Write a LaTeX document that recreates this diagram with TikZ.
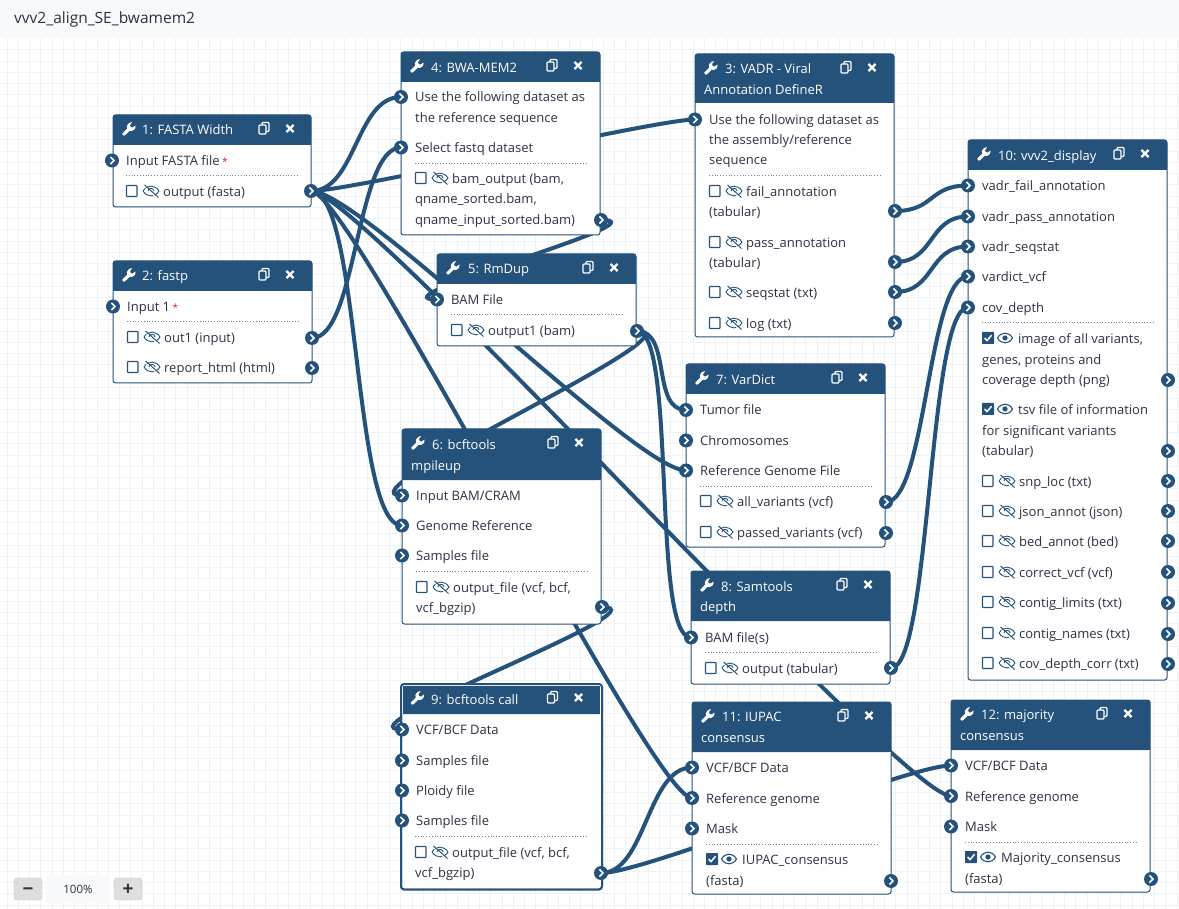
\documentclass[tikz,border=0pt]{standalone}
\usepackage{fontspec}
\setmainfont{Open Sans}
\pgfdeclarelayer{gridlayer}
\pgfdeclarelayer{noodlelayer}
\pgfsetlayers{gridlayer,noodlelayer,main}
\definecolor{galaxyblue}{HTML}{25527A}
\definecolor{inktext}{HTML}{2C3143}
\definecolor{gridline}{HTML}{EEF3F8}
\definecolor{barfill}{HTML}{F8F9FA}
\definecolor{starred}{HTML}{E31A1E}
\tikzset{
	noodle/.style={draw=galaxyblue,line width=4pt},
	boxbody/.style={draw=galaxyblue,fill=white,line width=1pt,rounded corners=2.5pt},
	headfill/.style={fill=galaxyblue,rounded corners=2.5pt},
	portnode/.style={circle,fill=galaxyblue,minimum size=14pt,inner sep=0pt},
	rowlabel/.style={anchor=base west,inner sep=0pt,text=inktext,font=\fontsize{13}{16}\selectfont},
	titlelabel/.style={anchor=base west,inner sep=0pt,text=white,font=\fontsize{13}{16}\selectfont},
	sepline/.style={draw=galaxyblue!70!white,line width=.8pt,dotted},
	zoombutton/.style={draw=black!22,fill=black!13,rounded corners=3pt,minimum width=28pt,minimum height=22pt,inner sep=0pt,text=inktext,text height=13.2pt,text depth=0pt,font=\fontsize{19}{19}\bfseries\selectfont}
}
\newcommand{\redstar}{\hspace{2.5pt}\textcolor{starred}{\fontsize{10}{10}\selectfont *}}
% icons, drawn around a centre point
\newcommand{\wrenchicon}[2]{
	\fill[white,rounded corners=.5pt,shift={(#1,#2)}] (-7,4.8) -- (-1.6,-.6) -- (-2.2,-3) -- (0,-6) -- (3.2,-7) -- (1,-4) -- (1.6,-2) -- (3.6,-1.4) -- (6.6,-3.6) -- (6,0) -- (3,2) -- (.8,1.6) -- (-4.8,7) -- cycle;
}
\newcommand{\copyicon}[2]{
	\begin{scope}[shift={(#1,#2)},draw=white,line width=1.1pt]
		\draw[rounded corners=1pt] (-2,-5.5) rectangle (5,3.5);
		\draw[fill=galaxyblue,rounded corners=1pt] (-5,-3) rectangle (2,6);
	\end{scope}
}
\newcommand{\closeicon}[2]{
	\draw[white,line width=2.3pt,shift={(#1,#2)}] (-3.6,-3.6) -- (3.6,3.6) (-3.6,3.6) -- (3.6,-3.6);
}
% box: name, left, top, right, bottom, header bottom
\newcommand{\toolbox}[6]{
	\draw[boxbody] (#2,#3) rectangle (#4,#5);
	\fill[headfill] (#2,#6) -- (#2,#3) -- (#4,#3) -- (#4,#6) [sharp corners] -- cycle;
	\fill[galaxyblue] (#2,#6-4) rectangle (#4,#6);
	\wrenchicon{#2+16}{#3+14}
	\copyicon{#2+151}{#3+13}
	\closeicon{#2+177}{#3+13.5}
}
\newcommand{\titlerow}[4]{\node[titlelabel] (#1) at (#2,#3+5.5) {#4};}
\newcommand{\textrow}[4]{\node[rowlabel] (#1) at (#2,#3+5.5) {#4};}
\newcommand{\portdot}[3]{
	\node[portnode] (#1) at (#2,#3) {};
	\draw[white,line width=1.6pt] (#2-1.6,#3-3.6) -- (#2+2,#3) -- (#2-1.6,#3+3.6);
}
\newcommand{\inrow}[4]{
	\portdot{#1}{#2}{#3}
	\textrow{#1text}{#2+14}{#3-.5}{#4}
}
\newcommand{\eyeslash}[2]{
	\begin{scope}[shift={(#1,#2)},draw=galaxyblue,line width=.9pt]
		\draw (-8,0) .. controls (-4,-6.5) and (4,-6.5) .. (8,0) .. controls (4,6.5) and (-4,6.5) .. (-8,0);
		\draw[line width=1pt] (-6.5,-6) -- (7.5,6.5);
		\draw[draw=white,line width=1pt] (-7.5,-5) -- (6.5,7.5);
		\draw (-3,0) .. controls (-3,-3.5) and (3,-3.5) .. (3,0);
	\end{scope}
}
% output rows with a checkbox: name, left, y, text
\newcommand{\hidrow}[4]{
	\draw[draw=galaxyblue,fill=white,line width=1.1pt,rounded corners=.6pt] (#2+.5,#3-5.5) rectangle (#2+11,#3+5.5);
	\eyeslash{#2+25}{#3}
	\textrow{#1}{#2+37}{#3}{#4}
}
\newcommand{\eyerow}[4]{
	\fill[galaxyblue,rounded corners=.6pt] (#2,#3-6) rectangle (#2+12,#3+6);
	\draw[white,line width=1.5pt] (#2+2.6,#3) -- (#2+5,#3+2.6) -- (#2+9.6,#3-2.8);
	\draw[galaxyblue,line width=1.1pt] (#2+15.5,#3) .. controls (#2+19,#3-6.5) and (#2+27,#3-6.5) .. (#2+30.5,#3) .. controls (#2+27,#3+6.5) and (#2+19,#3+6.5) .. (#2+15.5,#3);
	\fill[galaxyblue] (#2+23,#3) circle (2.6);
	\textrow{#1}{#2+36}{#3}{#4}
}
\begin{document}
	\begin{tikzpicture}[x=1pt,y=-1pt]
		\useasboundingbox (0,0) rectangle (1179,909);
		\begin{pgfonlayer}{gridlayer}
			\fill[white] (0,0) rectangle (1179,909);
			\foreach \i in {0,...,104}
			{
				\draw[gridline,line width=1pt] (7+\i*11.25,38) -- (7+\i*11.25,909);
			}
			\foreach \i in {0,...,77}
			{
				\draw[gridline,line width=1pt] (0,50+\i*11.25) -- (1179,50+\i*11.25);
			}
		\end{pgfonlayer}
		\fill[barfill] (0,0) rectangle (1179,38);
		\node[rowlabel,font=\fontsize{15.5}{16}\selectfont] (pagetitle) at (14,23.5) {vvv2\_align\_SE\_bwamem2};

		% 1
		\toolbox{box1}{113}{115}{311}{207}{145}
		\titlerow{t1}{142}{129}{1: FASTA Width}
		\inrow{f1in}{112}{160.5}{Input FASTA file\redstar}
		\draw[sepline] (126,175.5) -- (297,175.5);
		\hidrow{f1lab}{126}{191}{output (fasta)}
		\portdot{f1out}{311}{191}
		% 2
		\toolbox{box2}{113}{261}{312}{383}{291}
		\titlerow{t2}{142}{275}{2: fastp}
		\inrow{p2in}{113}{306.5}{Input 1\redstar}
		\draw[sepline] (127,321.5) -- (298,321.5);
		\hidrow{p2laba}{127}{337}{out1 (input)}
		\hidrow{p2labb}{127}{367}{report\_html (html)}
		\portdot{p2out}{312}{338}
		\portdot{p2rep}{312}{368}
		% 4
		\toolbox{box4}{401}{52}{600}{235}{82}
		\titlerow{t4}{431}{67}{4: BWA-MEM2}
		\inrow{b4ref}{401}{97}{Use the following dataset as}
		\textrow{b4refb}{415}{117}{the reference sequence}
		\inrow{b4fq}{401}{147.5}{Select fastq dataset}
		\draw[sepline] (415,163.5) -- (586,163.5);
		\hidrow{b4laba}{415}{178}{bam\_output (bam,}
		\textrow{b4labb}{415}{198}{qname\_sorted.bam,}
		\textrow{b4labc}{415}{219}{qname\_input\_sorted.bam)}
		\portdot{b4out}{601}{220}
		% 3
		\toolbox{box3}{695}{54}{894}{337}{103}
		\titlerow{t3}{725}{68}{3: VADR - Viral}
		\titlerow{t3b}{704}{89}{Annotation DefineR}
		\inrow{v3in}{695}{119.5}{Use the following dataset as}
		\textrow{v3inb}{709}{139.5}{the assembly/reference}
		\textrow{v3inc}{709}{159.5}{sequence}
		\draw[sepline] (709,175.5) -- (880,175.5);
		\hidrow{v3laba}{709}{191}{fail\_annotation}
		\textrow{v3labb}{709}{211}{(tabular)}
		\hidrow{v3labc}{709}{242}{pass\_annotation}
		\textrow{v3labd}{709}{262}{(tabular)}
		\hidrow{v3labe}{709}{292}{seqstat (txt)}
		\hidrow{v3labf}{709}{323}{log (txt)}
		\portdot{v3fail}{895}{211}
		\portdot{v3pass}{895}{262}
		\portdot{v3seq}{895}{292}
		\portdot{v3log}{895}{323}
		% 5
		\toolbox{box5}{437}{254}{636}{346}{284}
		\titlerow{t5}{468}{268}{5: RmDup}
		\inrow{r5in}{437}{299.5}{BAM File}
		\draw[sepline] (451,314.5) -- (622,314.5);
		\hidrow{r5lab}{451}{330}{output1 (bam)}
		\portdot{r5out}{637}{331}
		% 6
		\toolbox{box6}{402}{429}{601}{624}{480}
		\titlerow{t6}{432}{444}{6: bcftools}
		\titlerow{t6b}{411}{465}{mpileup}
		\inrow{m6bam}{402}{495.5}{Input BAM/CRAM}
		\inrow{m6ref}{402}{525.5}{Genome Reference}
		\inrow{m6sam}{402}{555.5}{Samples file}
		\draw[sepline] (416,571.5) -- (587,571.5);
		\hidrow{m6laba}{416}{587}{output\_file (vcf, bcf,}
		\textrow{m6labb}{416}{607}{vcf\_bgzip)}
		\portdot{m6out}{602}{607}
		% 7
		\toolbox{box7}{686}{364}{885}{547}{394}
		\titlerow{t7}{716}{379}{7: VarDict}
		\inrow{d7tum}{686}{410}{Tumor file}
		\inrow{d7chr}{686}{440.5}{Chromosomes}
		\inrow{d7ref}{686}{470.5}{Reference Genome File}
		\draw[sepline] (700,486.5) -- (871,486.5);
		\hidrow{d7laba}{700}{501}{all\_variants (vcf)}
		\hidrow{d7labb}{700}{532}{passed\_variants (vcf)}
		\portdot{d7all}{886}{502}
		\portdot{d7pass}{886}{533}
		% 8
		\toolbox{box8}{691}{571}{890}{684}{621}
		\titlerow{t8}{721}{586}{8: Samtools}
		\titlerow{t8b}{700}{606}{depth}
		\inrow{s8bam}{691}{637.5}{BAM file(s)}
		\draw[sepline] (705,652.5) -- (876,652.5);
		\hidrow{s8lab}{705}{668}{output (tabular)}
		\portdot{s8out}{891}{668}
		% 9
		\toolbox{box9}{401.5}{684}{601.5}{889}{714}
		\draw[white,line width=1pt] (402.5,714) -- (402.5,685.5) -- (600.5,685.5) -- (600.5,714);
		\draw[draw=galaxyblue,line width=2pt,rounded corners=3pt] (401,684) rectangle (602,889.5);
		\titlerow{t9}{431}{699}{9: bcftools call}
		\inrow{c9vcf}{402}{729.5}{VCF/BCF Data}
		\inrow{c9sam}{402}{760.5}{Samples file}
		\inrow{c9plo}{402}{790.5}{Ploidy file}
		\inrow{c9samb}{402}{820.5}{Samples file}
		\draw[sepline] (415,836.5) -- (586,836.5);
		\hidrow{c9laba}{415}{852}{output\_file (vcf, bcf,}
		\textrow{c9labb}{415}{872}{vcf\_bgzip)}
		\portdot{c9out}{601}{873}
		% 10
		\toolbox{box10}{968}{140}{1167}{680}{170}
		\titlerow{t10}{998}{155}{10: vvv2\_display}
		\inrow{e10fail}{968}{185.5}{vadr\_fail\_annotation}
		\inrow{e10pass}{968}{216.5}{vadr\_pass\_annotation}
		\inrow{e10seq}{968}{246.5}{vadr\_seqstat}
		\inrow{e10var}{968}{276.5}{vardict\_vcf}
		\inrow{e10cov}{968}{307.5}{cov\_depth}
		\draw[sepline] (982,322.5) -- (1153,322.5);
		\eyerow{e10laba}{982}{338}{image of all variants,}
		\textrow{e10labb}{982}{359}{genes, proteins and}
		\textrow{e10labc}{982}{379}{coverage depth (png)}
		\eyerow{e10labd}{982}{409}{tsv file of information}
		\textrow{e10labe}{982}{430}{for significant variants}
		\textrow{e10labf}{982}{450}{(tabular)}
		\hidrow{e10labg}{982}{481}{snp\_loc (txt)}
		\hidrow{e10labh}{982}{511}{json\_annot (json)}
		\hidrow{e10labi}{982}{541}{bed\_annot (bed)}
		\hidrow{e10labj}{982}{572}{correct\_vcf (vcf)}
		\hidrow{e10labk}{982}{602}{contig\_limits (txt)}
		\hidrow{e10labl}{982}{633}{contig\_names (txt)}
		\hidrow{e10labm}{982}{663}{cov\_depth\_corr (txt)}
		\foreach \nm/\ty in {pa/380,pb/451,pc/481,pd/511,pe/541,pf/572,pg/603,ph/634,pi/664}
		{
			\portdot{e10\nm}{1168}{\ty}
		}
		% 11
		\toolbox{box11}{692}{702}{891}{894}{752}
		\titlerow{t11}{722}{716}{11: IUPAC}
		\titlerow{t11b}{701}{737}{consensus}
		\inrow{i11vcf}{692}{767.5}{VCF/BCF Data}
		\inrow{i11ref}{692}{798}{Reference genome}
		\inrow{i11mas}{692}{828.5}{Mask}
		\draw[sepline] (706,844.5) -- (877,844.5);
		\eyerow{i11laba}{706}{859}{IUPAC\_consensus}
		\textrow{i11labb}{706}{880}{(fasta)}
		\portdot{i11out}{891}{881}
		% 12
		\toolbox{box12}{951}{700}{1150}{892}{750}
		\titlerow{t12}{981}{714}{12: majority}
		\titlerow{t12b}{960}{735}{consensus}
		\inrow{j12vcf}{951}{765.5}{VCF/BCF Data}
		\inrow{j12ref}{951}{796}{Reference genome}
		\inrow{j12mas}{951}{826.5}{Mask}
		\draw[sepline] (965,842.5) -- (1136,842.5);
		\eyerow{j12laba}{965}{857}{Majority\_consensus}
		\textrow{j12labb}{965}{878}{(fasta)}
		\portdot{j12out}{1151}{879}

		% connectors go under the boxes
		\begin{pgfonlayer}{noodlelayer}
			\foreach \src/\dst/\bend in {f1out/b4ref/45,f1out/v3in/40,f1out/m6ref/50,f1out/i11ref/40,f1out/d7ref/50,f1out/j12ref/50,
				p2out/b4fq/45,b4out/r5in/68,r5out/m6bam/68,r5out/d7tum/35,r5out/s8bam/40,m6out/c9vcf/68,
				v3fail/e10fail/40,v3pass/e10pass/40,v3seq/e10seq/40,d7all/e10var/40,s8out/e10cov/40,
				c9out/i11vcf/45,c9out/j12vcf/45}
			{
				\draw[noodle] (\src.center) .. controls +(\bend,0) and +(-\bend,0) .. (\dst.center);
			}
		\end{pgfonlayer}

		% zoom controls
		\node[zoombutton] (zoomminus) at (28,889) {−};
		\node[fill=barfill,rounded corners=3pt,minimum width=64pt,minimum height=28pt,inner sep=0pt,text=inktext,font=\fontsize{11.5}{14}\selectfont] (zoomlevel) at (78,889) {100\%};
		\node[zoombutton] (zoomplus) at (128,889) {+};
	\end{tikzpicture}
\end{document}
